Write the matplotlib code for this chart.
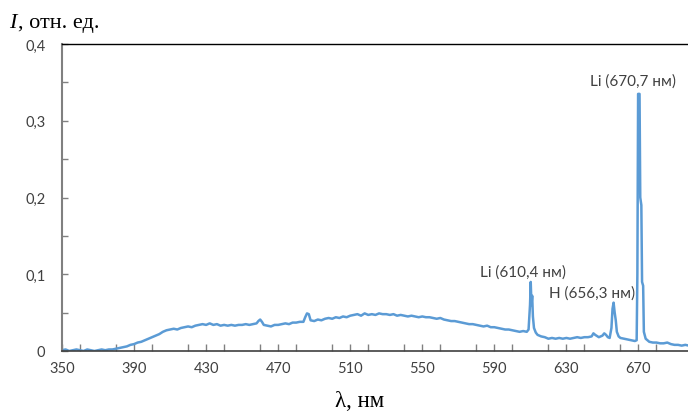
import matplotlib
matplotlib.use("Agg")
import matplotlib.pyplot as plt
from matplotlib.ticker import MultipleLocator, FixedLocator, FuncFormatter

wavelength = [
    350, 352, 354, 356, 358, 360, 362, 364, 366, 368, 370, 372, 374, 376, 378,
    380, 382, 384, 386, 388, 390, 392, 394, 396, 398, 400, 402, 404, 406, 408,
    410, 412, 414, 416, 418, 420, 422, 424, 426, 428, 430, 432, 434, 436, 438,
    440, 442, 444, 446, 448, 450, 452, 454, 456, 458, 459, 460, 461, 462, 464,
    466, 468, 470, 472, 474, 476, 478, 480, 482, 484, 485, 486, 487, 488, 490,
    492, 494, 496, 498, 500, 502, 504, 506, 508, 510, 512, 514, 516, 518, 520,
    522, 524, 526, 528, 530, 532, 534, 536, 538, 540, 542, 544, 546, 548, 550,
    552, 554, 556, 558, 560, 562, 564, 566, 568, 570, 572, 574, 576, 578, 580,
    582, 584, 586, 588, 590, 592, 594, 596, 598, 600, 602, 604, 606, 608, 609,
    609.8, 610.2, 610.6, 611.0, 611.4, 612, 613, 614, 616, 618, 620, 622, 624,
    626, 628, 630, 632, 634, 636, 638, 640, 642, 644, 645, 646, 648, 650, 651,
    652, 653, 654, 655, 655.6, 656.2, 656.8, 657.4, 658, 659, 660, 662, 664,
    666, 668, 669, 669.4, 669.8, 670.6, 671.0, 671.6, 672.0, 672.6, 673.0, 674,
    676, 678, 680, 682, 684, 686, 688, 690, 692, 694, 696, 698,
]
intensity = [
    0.001, 0.002, 0.000, 0.001, 0.002, 0.001, 0.000, 0.002, 0.001, 0.000, 0.001, 0.002, 0.001, 0.002, 0.002,
    0.003, 0.004, 0.005, 0.006, 0.008, 0.009, 0.011, 0.012, 0.014, 0.016, 0.018, 0.020, 0.022, 0.025, 0.027,
    0.028, 0.029, 0.028, 0.030, 0.031, 0.032, 0.031, 0.033, 0.034, 0.035, 0.034, 0.036, 0.034, 0.035, 0.033,
    0.034, 0.033, 0.034, 0.033, 0.034, 0.034, 0.035, 0.034, 0.035, 0.036, 0.039, 0.041, 0.038, 0.034, 0.033,
    0.032, 0.034, 0.034, 0.035, 0.036, 0.035, 0.037, 0.037, 0.038, 0.038, 0.044, 0.049, 0.048, 0.040, 0.039,
    0.041, 0.040, 0.042, 0.043, 0.042, 0.044, 0.043, 0.045, 0.044, 0.046, 0.047, 0.048, 0.046, 0.049, 0.047,
    0.048, 0.047, 0.049, 0.048, 0.048, 0.047, 0.048, 0.046, 0.047, 0.046, 0.045, 0.046, 0.045, 0.044, 0.045,
    0.044, 0.044, 0.043, 0.042, 0.043, 0.041, 0.040, 0.039, 0.039, 0.038, 0.037, 0.036, 0.035, 0.035, 0.034,
    0.033, 0.032, 0.033, 0.031, 0.031, 0.030, 0.029, 0.028, 0.028, 0.027, 0.026, 0.025, 0.026, 0.025, 0.028,
    0.060, 0.090, 0.060, 0.072, 0.045, 0.030, 0.024, 0.021, 0.019, 0.018, 0.016, 0.017, 0.016,
    0.017, 0.016, 0.017, 0.016, 0.017, 0.018, 0.017, 0.018, 0.018, 0.019, 0.023, 0.021, 0.018, 0.020, 0.023,
    0.021, 0.018, 0.017, 0.030, 0.055, 0.063, 0.050, 0.040, 0.025, 0.019, 0.017, 0.016, 0.015,
    0.014, 0.013, 0.014, 0.100, 0.335, 0.335, 0.200, 0.190, 0.090, 0.085, 0.025, 0.016,
    0.012, 0.011, 0.011, 0.010, 0.010, 0.011, 0.009, 0.008, 0.008, 0.007, 0.008, 0.007,
]

label_texts = ["Li (610,4 нм)", "H (656,3 нм)", "Li (670,7 нм)"]
label_x = [605.7, 644.5, 667.2]
label_y = [0.104, 0.0756, 0.352]

x_ticks = [350, 390, 430, 470, 510, 550, 590, 630, 670]
y_ticks = [0, 0.1, 0.2, 0.3, 0.4]

fig = plt.figure(figsize=(6.88, 4.14), dpi=100)
ax = fig.add_axes([62 / 688, 62 / 414, 1 - 62 / 688, (352 - 45) / 414])

ax.plot(wavelength, intensity, color="#5B9BD5", lw=1.8, solid_joinstyle="round")

ax.set_xlim(350, 697.5)
ax.set_ylim(0, 0.4)
ax.xaxis.set_major_locator(FixedLocator(x_ticks))
ax.xaxis.set_minor_locator(MultipleLocator(20))
ax.yaxis.set_major_locator(FixedLocator(y_ticks))
ax.yaxis.set_minor_locator(MultipleLocator(0.05))

def fmt(v, pos):
    if abs(v) < 1e-9:
        return "0"
    return f"{v:.1f}".replace(".", ",")

ax.yaxis.set_major_formatter(FuncFormatter(fmt))

tick_font = "Lato"
for lbl in ax.get_xticklabels() + ax.get_yticklabels():
    lbl.set_fontfamily(tick_font)
ax.tick_params(axis="both", which="both", direction="in", color="#808080",
               labelsize=10.5, labelcolor="#404040")
ax.tick_params(axis="x", which="both", length=5, width=1, pad=7)
ax.tick_params(axis="y", which="both", length=4, width=1, pad=12)

ax.spines["right"].set_visible(False)
ax.spines["left"].set_color("#808080")
ax.spines["left"].set_linewidth(1.5)
ax.spines["bottom"].set_color("#404040")
ax.spines["bottom"].set_linewidth(1.2)
ax.spines["top"].set_color("#000000")
ax.spines["top"].set_linewidth(1.0)

for txt, xv, yv in zip(label_texts, label_x, label_y):
    ax.text(xv, yv, txt, ha="center", va="center", fontsize=11,
            family=tick_font, color="#404040")

fig.text(9 / 688, 1 - 28 / 414, "I", fontsize=16, family="Liberation Serif",
         style="italic", va="baseline")
fig.text(17.5 / 688, 1 - 28 / 414, ", отн. ед.", fontsize=16,
         family="Liberation Serif", va="baseline")
fig.text(0.5 * (333 + 387) / 688, 1 - 407 / 414, "λ, нм", fontsize=16.5,
         family="Liberation Serif", ha="center", va="baseline")

plt.savefig("out.png", dpi=100)
